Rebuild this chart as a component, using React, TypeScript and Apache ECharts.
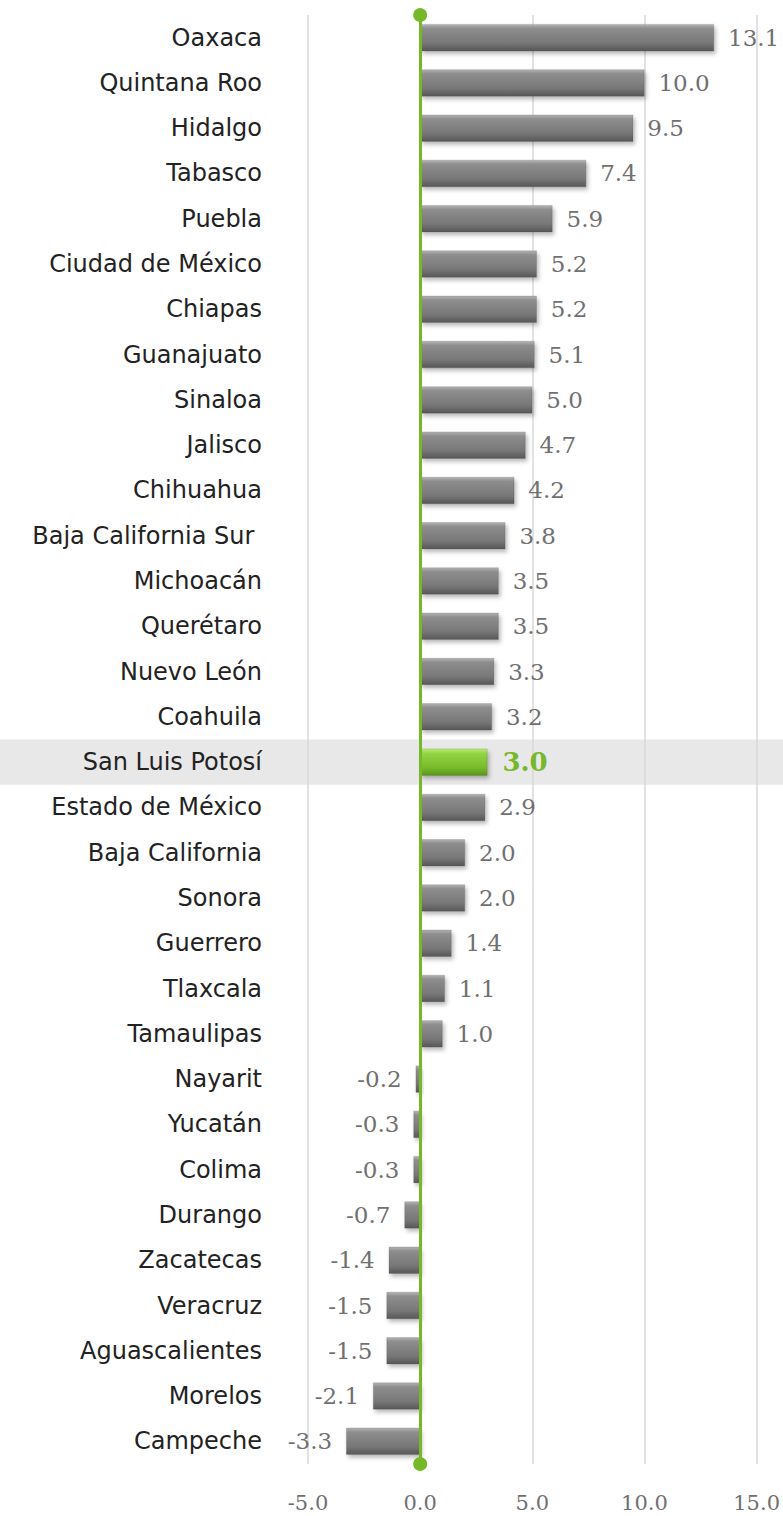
import React, { useEffect, useRef } from "react";
import * as echarts from "echarts";

const states = [
  "Oaxaca", "Quintana Roo", "Hidalgo", "Tabasco", "Puebla", "Ciudad de México", "Chiapas",
  "Guanajuato", "Sinaloa", "Jalisco", "Chihuahua", "Baja California Sur ", "Michoacán",
  "Querétaro", "Nuevo León", "Coahuila", "San Luis Potosí", "Estado de México",
  "Baja California", "Sonora", "Guerrero", "Tlaxcala", "Tamaulipas", "Nayarit", "Yucatán",
  "Colima", "Durango", "Zacatecas", "Veracruz", "Aguascalientes", "Morelos", "Campeche",
];
const values = [
  13.1, 10.0, 9.5, 7.4, 5.9, 5.2, 5.2, 5.1, 5.0, 4.7, 4.2, 3.8, 3.5, 3.5, 3.3, 3.2, 3.0, 2.9,
  2.0, 2.0, 1.4, 1.1, 1.0, -0.2, -0.3, -0.3, -0.7, -1.4, -1.5, -1.5, -2.1, -3.3,
];
const highlight = "San Luis Potosí";
const xTicks = [-5, 0, 5, 10, 15];

const GREEN = "#76b82a";
const GRAY_TXT = "#707070";

export default function App() {
  const ref = useRef<HTMLDivElement>(null);
  useEffect(() => {
    const chart = echarts.init(ref.current!, undefined, { renderer: "svg" });
    const grayFill = new echarts.graphic.LinearGradient(0, 0, 0, 1, [
      { offset: 0, color: "#b4b4b4" },
      { offset: 0.15, color: "#8e8e8e" },
      { offset: 0.7, color: "#777777" },
      { offset: 1, color: "#575757" },
    ]);
    const greenFill = new echarts.graphic.LinearGradient(0, 0, 0, 1, [
      { offset: 0, color: "#b8ec70" },
      { offset: 0.18, color: "#92d442" },
      { offset: 0.7, color: "#78bb2c" },
      { offset: 1, color: "#5a961a" },
    ]);
    const data = states.map((s, i) => {
      const v = values[i];
      const hl = s === highlight;
      return {
        value: v,
        itemStyle: { color: hl ? greenFill : grayFill },
        label: {
          position: v < 0 ? "left" : "right",
          color: hl ? GREEN : GRAY_TXT,
          fontWeight: hl ? "bold" : "normal",
          fontSize: hl ? 26 : 23,
          distance: hl ? 15 : 14,
        },
      };
    });
    chart.setOption({
      animation: false,
      grid: { left: 308, right: 21, top: 15, bottom: 52 },
      xAxis: {
        type: "value",
        min: -5,
        max: 15,
        interval: 5,
        axisLine: { show: false },
        axisTick: { show: false },
        splitLine: { show: true, lineStyle: { color: "#d9d9d9", width: 1.5 } },
        axisLabel: {
          margin: 28,
          color: GRAY_TXT,
          fontFamily: "DejaVu Serif",
          fontSize: 21,
          formatter: (v: number) => (xTicks.includes(v) ? v.toFixed(1) : ""),
        },
      },
      yAxis: {
        type: "category",
        inverse: true,
        data: states,
        axisLine: { show: false },
        axisTick: { show: false },
        axisLabel: {
          margin: 46,
          color: "#222222",
          fontFamily: "DejaVu Sans",
          fontSize: 24,
        },
      },
      series: [
        {
          type: "bar",
          data,
          barWidth: 27,
          itemStyle: {
            shadowColor: "rgba(0,0,0,0.28)",
            shadowBlur: 4,
            shadowOffsetX: 2,
            shadowOffsetY: 3,
            borderColor: "rgba(60,60,60,0.35)",
            borderWidth: 0.5,
          },
          label: {
            show: true,
            distance: 14,
            fontFamily: "DejaVu Serif",
            fontSize: 23,
            color: GRAY_TXT,
            formatter: (p: any) => Number(p.value).toFixed(1),
          },
          markLine: {
            silent: true,
            symbol: ["circle", "circle"],
            symbolSize: 14,
            label: { show: false },
            lineStyle: { color: GREEN, width: 3, type: "solid" },
            itemStyle: { color: GREEN },
            data: [{ xAxis: 0 }],
          },
        },
      ],
    });
    const idx = states.indexOf(highlight);
    const yc = chart.convertToPixel({ yAxisIndex: 0 }, idx) as number;
    const y0 = chart.convertToPixel({ yAxisIndex: 0 }, 0) as number;
    const y1 = chart.convertToPixel({ yAxisIndex: 0 }, 1) as number;
    const band = Math.abs(y1 - y0);
    chart.setOption({
      graphic: [
        {
          type: "rect",
          z: -10,
          zlevel: 0,
          silent: true,
          shape: { x: 0, y: yc - band / 2, width: 783, height: band },
          style: { fill: "#e8e8e8" },
        },
      ],
    });
    return () => chart.dispose();
  }, []);
  return (
    <div
      ref={ref}
      style={{ position: "absolute", left: 0, top: 0, width: 783, height: 1516 }}
    />
  );
}
